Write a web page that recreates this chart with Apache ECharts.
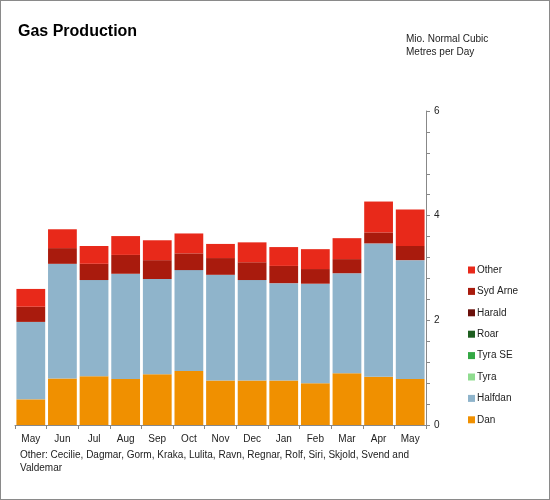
<!DOCTYPE html>
<html>
<head>
<meta charset="utf-8">
<script src="https://cdn.jsdelivr.net/npm/echarts@6/dist/echarts.min.js"></script>
<style>
html,body{margin:0;padding:0;background:#fff;}
#c{width:550px;height:500px;box-sizing:border-box;border:1px solid #8a8a8a;}
</style>
</head>
<body>
<div id="c"></div>
<script>
const categories = ["May","Jun","Jul","Aug","Sep","Oct","Nov","Dec","Jan","Feb","Mar","Apr","May"];
const dan      = [0.49,0.89,0.93,0.88,0.97,1.03,0.85,0.85,0.85,0.80,0.99,0.92,0.88];
const halfdan  = [1.48,2.19,1.84,2.01,1.82,1.93,2.02,1.92,1.86,1.90,1.91,2.55,2.27];
const tyra     = [0,0,0,0,0,0,0,0,0,0,0,0,0];
const tyraSE   = [0,0,0,0,0,0,0,0,0,0,0,0,0];
const roar     = [0,0,0,0,0,0,0,0,0,0,0,0,0];
const harald   = [0,0,0,0,0,0,0,0,0,0,0,0,0];
const sydArne  = [0.29,0.30,0.31,0.36,0.36,0.32,0.32,0.34,0.33,0.28,0.27,0.21,0.27];
const other    = [0.34,0.36,0.34,0.36,0.38,0.38,0.27,0.38,0.36,0.38,0.40,0.59,0.70];
const seriesNames = ["Dan","Halfdan","Tyra","Tyra SE","Roar","Harald","Syd Arne","Other"];
const seriesColors = ["#F09000","#8FB4CB","#90DC90","#34A844","#1E5E20","#6A0F0A","#A91B0D","#E8291A"];
const seriesData = [dan, halfdan, tyra, tyraSE, roar, harald, sydArne, other];
const yTicks = [0, 2, 4, 6];
const footnote = "Other: Cecilie, Dagmar, Gorm, Kraka, Lulita, Ravn, Regnar, Rolf, Siri, Skjold, Svend and\nValdemar";

const font = "Liberation Sans, Arial, sans-serif";
const chart = echarts.init(document.getElementById('c'), null, {renderer:'canvas'});
chart.setOption({
  animation: false,
  textStyle: {fontFamily: font},
  title: {
    text: "Gas Production", left: 17, top: 23, padding: 0,
    textStyle: {fontFamily: font, fontSize: 16, fontWeight: 'bold', color: '#000'}
  },
  graphic: [
    {type:'text', left: 405, top: 32, style:{text:"Mio. Normal Cubic\nMetres per Day", font:"10px " + font, fill:'#222', lineHeight: 13}},
    {type:'text', left: 19, top: 448, style:{text: footnote, font:"10px " + font, fill:'#222', lineHeight: 13}}
  ],
  legend: {
    orient: 'vertical', left: 467, top: 263, padding: 0,
    data: seriesNames.slice().reverse(),
    itemWidth: 7, itemHeight: 7, itemGap: 9.4,
    icon: 'rect',
    textStyle: {fontFamily: font, fontSize: 10, color: '#222', lineHeight: 12, padding: [0,0,0,-3]}
  },
  grid: {left: 14, right: 123, top: 110, bottom: 74},
  xAxis: {
    type: 'category', data: categories,
    axisLine: {lineStyle: {color: '#888'}},
    axisTick: {show: true, length: 4, lineStyle: {color: '#888'}},
    axisLabel: {color: '#222', fontSize: 10, margin: 9, interval: 0}
  },
  yAxis: {
    type: 'value', position: 'right', min: 0, max: 6, interval: 0.4,
    splitLine: {show: false},
    axisLine: {show: true, lineStyle: {color: '#888'}},
    axisTick: {show: true, length: 4, lineStyle: {color: '#888'}},
    axisLabel: {
      color: '#222', fontSize: 10, margin: 8,
      formatter: function (v) {
        for (const t of yTicks) { if (Math.abs(v - t) < 1e-6) return String(t); }
        return '';
      }
    }
  },
  series: seriesNames.map((n, i) => ({
    name: n, type: 'bar', stack: 'gas', data: seriesData[i],
    barCategoryGap: '9%',
    itemStyle: {color: seriesColors[i]}
  }))
});
</script>
</body>
</html>
